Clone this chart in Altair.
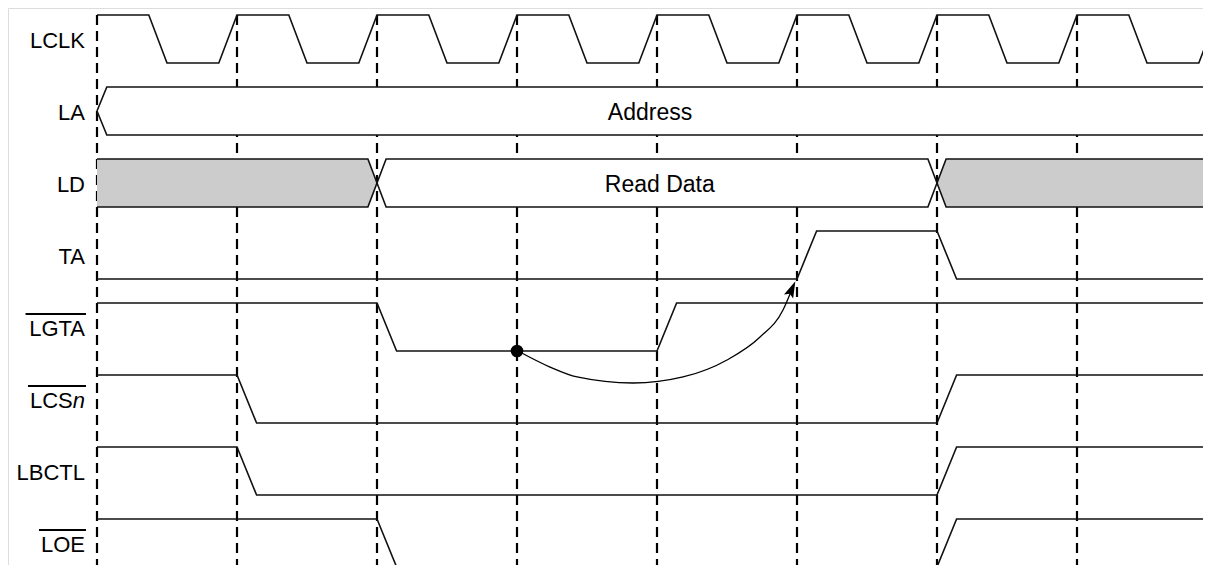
import altair as alt
import pandas as pd

# ---------------- data ----------------
signals = ["LCLK", "LA", "LD", "TA", "LGTA", "LCSn", "LBCTL", "LOE"]
label_main = ["LCLK", "LA", "LD", "TA", "LGTA", "LCS", "LBCTL", "LOE"]
label_italic = ["", "", "", "", "", "n", "", ""]
overlined = [False, False, False, False, True, True, False, True]

# clock edges (dashed reference lines), in clock periods
edges = [0, 1, 2, 3, 4, 5, 6, 7]

# digital waveforms: corner times (periods) and logic levels
lclk_t = [0.0, 0.37, 0.5, 0.87, 1.0, 1.37, 1.5, 1.87, 2.0, 2.37, 2.5, 2.87,
          3.0, 3.37, 3.5, 3.87, 4.0, 4.37, 4.5, 4.87, 5.0, 5.37, 5.5, 5.87,
          6.0, 6.37, 6.5, 6.87, 7.0, 7.37, 7.5, 7.87, 8.0]
lclk_lv = [1, 1, 0, 0, 1, 1, 0, 0, 1, 1, 0, 0,
           1, 1, 0, 0, 1, 1, 0, 0, 1, 1, 0, 0,
           1, 1, 0, 0, 1, 1, 0, 0, 1]
ta_t = [0.0, 5.0, 5.14, 6.0, 6.14, 8.0]
ta_lv = [0, 0, 1, 1, 0, 0]
lgta_t = [0.0, 2.0, 2.14, 4.0, 4.14, 8.0]
lgta_lv = [1, 1, 0, 0, 1, 1]
lcs_t = [0.0, 1.0, 1.14, 6.0, 6.14, 8.0]
lcs_lv = [1, 1, 0, 0, 1, 1]
lbctl_t = [0.0, 1.0, 1.14, 6.0, 6.14, 8.0]
lbctl_lv = [1, 1, 0, 0, 1, 1]
loe_t = [0.0, 2.0, 2.14, 6.0, 6.14, 8.0]
loe_lv = [1, 1, 0, 0, 1, 1]

# buses: segment, time, opening (0 = crossing point, 1 = full width)
la_seg = ["a", "a", "a"]
la_t = [0.0, 0.07, 8.0]
la_open = [0, 1, 1]
la_fill = ["#ffffff", "#ffffff", "#ffffff"]

ld_seg = ["g1", "g1", "g1", "w", "w", "w", "w", "g2", "g2", "g2"]
ld_t = [0.0, 1.935, 2.0, 2.0, 2.065, 5.935, 6.0, 6.0, 6.065, 8.0]
ld_open = [1, 1, 0, 0, 1, 1, 0, 0, 1, 1]
ld_fill = ["#cccccc", "#cccccc", "#cccccc", "#ffffff", "#ffffff", "#ffffff",
           "#ffffff", "#cccccc", "#cccccc", "#cccccc"]

bus_labels = ["Address", "Read Data"]
bus_label_t = [3.95, 4.02]
bus_label_row = [1, 2]

# causality arrow LGTA -> TA
dot_t = [3.0]
dot_row = [4]
arrow_t = [3.007, 3.236, 3.429, 3.829, 4.186, 4.5, 4.736, 4.9, 4.955]
arrow_v = [-4.333, -4.556, -4.694, -4.778, -4.694, -4.458, -4.139, -3.764, -3.52]
head_t = [4.964]
head_v = [-3.47]

# ---------------- geometry helpers ----------------
PX = 140.0   # pixels per clock period
PY = 72.0    # pixels per signal row
W, H = 1195, 557
T0 = (8 - 97) / PX
T1 = T0 + W / PX
V1 = (39 - 8) / PY
V0 = V1 - H / PY
AMP = 1.0 / 3.0
FONT = "Liberation Sans"
FS = 22
ANCHOR = -12 / PX

xs = alt.Scale(domain=[T0, T1], nice=False, zero=False)
ys = alt.Scale(domain=[V0, V1], nice=False, zero=False)
X = alt.X("t:Q", scale=xs, axis=None)
Y = alt.Y("v:Q", scale=ys, axis=None)

def level(row, lv):
    return -row + (lv - 0.5) * 2 * AMP

# waveforms table
wave_rows = []
for name, row, ts, lvs in [("LCLK", 0, lclk_t, lclk_lv), ("TA", 3, ta_t, ta_lv),
                           ("LGTA", 4, lgta_t, lgta_lv), ("LCSn", 5, lcs_t, lcs_lv),
                           ("LBCTL", 6, lbctl_t, lbctl_lv), ("LOE", 7, loe_t, loe_lv)]:
    for i, (t, lv) in enumerate(zip(ts, lvs)):
        wave_rows.append({"sig": name, "i": i, "t": t, "v": level(row, lv)})
wave_df = pd.DataFrame(wave_rows)

# bus tables
bus_area_rows = []
bus_line_rows = []
for name, row, segs, ts, ops, fills in [("LA", 1, la_seg, la_t, la_open, la_fill),
                                        ("LD", 2, ld_seg, ld_t, ld_open, ld_fill)]:
    for i, (s, t, o, f) in enumerate(zip(segs, ts, ops, fills)):
        top = -row + o * AMP
        bot = -row - o * AMP
        bus_area_rows.append({"seg": name + s, "t": t, "v": top, "v2": bot, "fill": f})
        bus_line_rows.append({"path": name + "top", "i": i, "t": t, "v": top})
        bus_line_rows.append({"path": name + "bot", "i": i, "t": t, "v": bot})
bus_area_df = pd.DataFrame(bus_area_rows)
bus_line_df = pd.DataFrame(bus_line_rows)

# dashed edges
edge_df = pd.DataFrame({"t": edges, "v": [AMP] * len(edges), "v2": [V0 - 1] * len(edges)})

# labels
ARIAL = {"L": 556, "G": 778, "T": 611, "A": 667, "C": 722, "S": 667, "O": 778,
         "E": 667, "n": 556, "B": 667, "K": 667, "D": 722}
lab_rows, ital_rows, over_rows = [], [], []
for row, (m, it, ov) in enumerate(zip(label_main, label_italic, overlined)):
    it_w = sum(ARIAL[c] for c in it) * FS / 1000.0
    m_w = sum(ARIAL[c] for c in m) * FS / 1000.0
    lab_rows.append({"t": ANCHOR - it_w / PX, "v": -row, "txt": m})
    if it:
        ital_rows.append({"t": ANCHOR, "v": -row, "txt": it})
    if ov:
        over_rows.append({"t": ANCHOR - (m_w + it_w + 2) / PX, "t2": ANCHOR + 1 / PX,
                          "v": -row + 13 / PY})
lab_df = pd.DataFrame(lab_rows)
ital_df = pd.DataFrame(ital_rows)
over_df = pd.DataFrame(over_rows)

bus_lab_df = pd.DataFrame({"t": bus_label_t, "v": [-r for r in bus_label_row],
                           "txt": bus_labels})
dot_df = pd.DataFrame({"t": dot_t, "v": [level(r, 0) for r in dot_row]})
arrow_df = pd.DataFrame({"t": arrow_t, "v": arrow_v, "i": list(range(len(arrow_t)))})
head_df = pd.DataFrame({"t": head_t, "v": head_v})

# ---------------- layers ----------------
STROKE = "#111111"

dashes = alt.Chart(edge_df).mark_rule(color="#000000", strokeWidth=2.2,
                                      strokeDash=[10, 6]).encode(
    x=X, y=Y, y2="v2:Q")

bus_fill = alt.Chart(bus_area_df).mark_area(opacity=1, strokeWidth=0).encode(
    x=X, y=Y, y2="v2:Q", detail="seg:N", color=alt.Color("fill:N", scale=None))

bus_lines = alt.Chart(bus_line_df).mark_line(color=STROKE, strokeWidth=1.6).encode(
    x=X, y=Y, detail="path:N", order="i:Q")

waves = alt.Chart(wave_df).mark_line(color=STROKE, strokeWidth=1.6).encode(
    x=X, y=Y, detail="sig:N", order="i:Q")

labels = alt.Chart(lab_df).mark_text(align="right", baseline="middle", font=FONT,
                                     fontSize=FS, color="#000000", dy=2).encode(
    x=X, y=Y, text="txt:N")

ital = alt.Chart(ital_df).mark_text(align="right", baseline="middle", font=FONT,
                                    fontSize=FS, fontStyle="italic", color="#000000",
                                    dy=2).encode(x=X, y=Y, text="txt:N")

overl = alt.Chart(over_df).mark_rule(color="#000000", strokeWidth=2).encode(
    x=X, x2="t2:Q", y=Y)

bus_text = alt.Chart(bus_lab_df).mark_text(align="center", baseline="middle",
                                           font=FONT, fontSize=23, color="#000000",
                                           dy=2).encode(x=X, y=Y, text="txt:N")

curve = alt.Chart(arrow_df).mark_line(color="#000000", strokeWidth=1.3,
                                      interpolate="monotone").encode(
    x=X, y=Y, order="i:Q")

dot = alt.Chart(dot_df).mark_point(shape="circle", filled=True, size=160,
                                   color="#000000", opacity=1).encode(x=X, y=Y)

head = alt.Chart(head_df).mark_point(shape="M0,-1L0.6,1L0,0.65L-0.6,1Z", filled=True,
                                     size=280, angle=24, color="#000000",
                                     opacity=1).encode(x=X, y=Y)

chart = alt.layer(dashes, bus_fill, bus_lines, waves, labels, ital, overl, bus_text,
                  curve, dot, head).properties(
    width=W, height=H, padding=0, autosize=alt.AutoSizeParams(type="none")
).configure_view(stroke=None).configure(background="#ffffff")

chart.save("out.html", embed_options={"renderer": "svg", "actions": False})
